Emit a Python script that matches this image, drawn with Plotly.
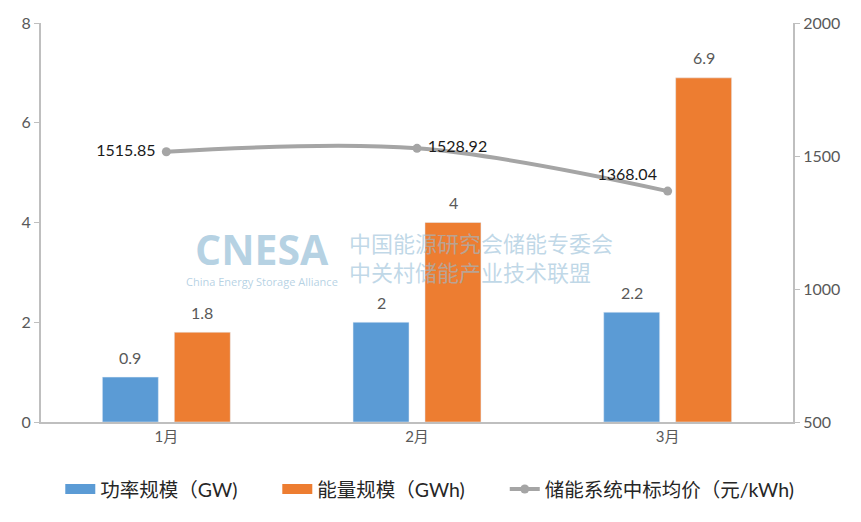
import plotly.graph_objects as go

categories = ["1月", "2月", "3月"]
power_gw = [0.9, 2, 2.2]
energy_gwh = [1.8, 4, 6.9]
price = [1515.85, 1528.92, 1368.04]
price_labels = ["1515.85", "1528.92", "1368.04"]
price_label_pos = ["middle left", "middle right", "top left"]

FONT = "Lato, 'Noto Sans CJK SC', sans-serif"
TXT = "#595959"
BLUE = "#5B9BD5"
ORANGE = "#ED7D31"
GRAY = "#A5A5A5"
PAD = "\u00a0" * 7

fig = go.Figure()
fig.add_trace(go.Bar(
    x=categories, y=power_gw, name="功率规模（GW)", marker_color=BLUE,
    legendgroup="p", showlegend=False,
))
fig.add_trace(go.Bar(
    x=categories, y=energy_gwh, name="能量规模（GWh)", marker_color=ORANGE,
    legendgroup="e", showlegend=False,
))
# legend-only entries with wide rectangular swatches
fig.add_trace(go.Scatter(x=[None], y=[None], mode="lines", name="功率规模（GW)" + PAD,
                         line=dict(color=BLUE, width=10), legendgroup="p"))
fig.add_trace(go.Scatter(x=[None], y=[None], mode="lines", name="能量规模（GWh)" + PAD,
                         line=dict(color=ORANGE, width=10), legendgroup="e"))
fig.add_trace(go.Scatter(
    x=categories, y=price, name="储能系统中标均价（元/kWh)", yaxis="y2",
    mode="lines+markers+text", line=dict(color=GRAY, width=4, shape="spline", smoothing=1),
    marker=dict(color=GRAY, size=9),
    text=[" " + t + " " for t in price_labels], textposition=price_label_pos,
    textfont=dict(color="#1A1A1A", size=16, family=FONT), cliponaxis=False,
))

# bar data labels
for cat, v in zip(categories, power_gw):
    fig.add_annotation(x=cat, y=v, text=str(v), showarrow=False, xshift=-36, yshift=20,
                       font=dict(size=16, color=TXT, family=FONT))
for cat, v in zip(categories, energy_gwh):
    fig.add_annotation(x=cat, y=v, text=str(v), showarrow=False, xshift=36, yshift=20,
                       font=dict(size=16, color=TXT, family=FONT))

# watermark
WM = "rgba(150,190,215,0.7)"
fig.add_annotation(xref="paper", yref="paper", x=0.294, y=0.434, xanchor="center", yanchor="middle",
                   text="<b>CNESA</b>", showarrow=False,
                   font=dict(size=41, color=WM, family="'Open Sans', sans-serif"))
fig.add_annotation(xref="paper", yref="paper", x=0.294, y=0.352, xanchor="center", yanchor="middle",
                   text="China Energy Storage Alliance", showarrow=False,
                   font=dict(size=11, color=WM, family="'Open Sans', sans-serif"))
fig.add_annotation(xref="paper", yref="paper", x=0.585, y=0.414, xanchor="center", yanchor="middle",
                   text="中国能源研究会储能专委会<br>中关村储能产业技术联盟",
                   showarrow=False, align="left",
                   font=dict(size=22, color="rgba(150,190,215,0.6)", family="'Noto Sans CJK SC', sans-serif"))

fig.update_layout(
    width=861, height=522,
    margin=dict(l=41, r=68, t=23, b=100),
    paper_bgcolor="white", plot_bgcolor="white",
    font=dict(family=FONT, size=15, color=TXT),
    barmode="group", bargap=0.426, bargroupgap=0.222,
    showlegend=True,
    legend=dict(orientation="h", x=0.517, xanchor="center", y=-0.12, yanchor="top",
                font=dict(size=19.5, color="#262626"), traceorder="normal"),
    xaxis=dict(showline=True, linecolor="#BFBFBF", linewidth=2, ticks="",
               tickfont=dict(size=15, color=TXT), showgrid=False),
    yaxis=dict(range=[0, 8], tickvals=[0, 2, 4, 6, 8], showline=True, linecolor="#BFBFBF",
               linewidth=2, ticks="outside", ticklen=5, tickcolor="#BFBFBF",
               showgrid=False, zeroline=False, tickfont=dict(size=16, color=TXT)),
    yaxis2=dict(range=[500, 2000], tickvals=[500, 1000, 1500, 2000], overlaying="y", side="right",
                showline=True, linecolor="#BFBFBF", linewidth=2, ticks="outside", ticklen=5,
                tickcolor="#BFBFBF", showgrid=False, zeroline=False, tickfont=dict(size=16, color=TXT)),
)

fig.write_html("out.html", config={"displayModeBar": False},
               post_script="document.body.style.margin='0';document.body.style.padding='0';")
